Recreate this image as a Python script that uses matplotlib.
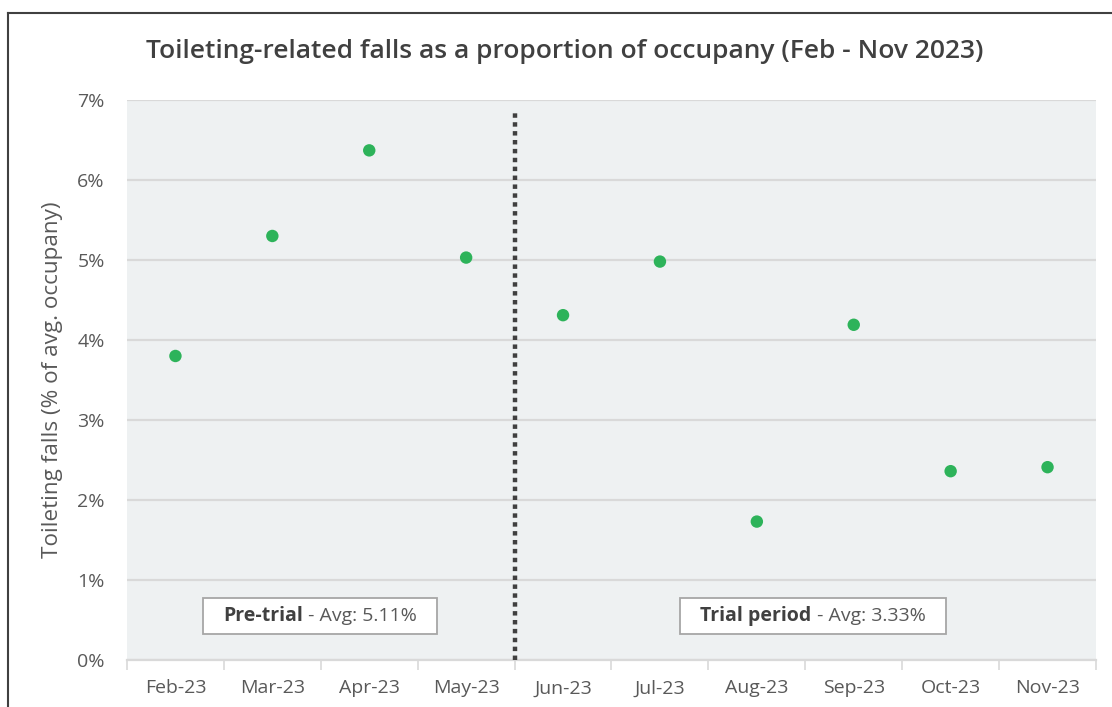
import matplotlib.pyplot as plt
import matplotlib.lines as mlines
import matplotlib.patches as mpatches
import numpy as np

plt.rcParams['font.family'] = ['Open Sans', 'DejaVu Sans']

# Data
months = ['Feb-23', 'Mar-23', 'Apr-23', 'May-23', 'Jun-23',
          'Jul-23', 'Aug-23', 'Sep-23', 'Oct-23', 'Nov-23']
falls_pct = [3.80, 5.30, 6.37, 5.03, 4.31, 4.98, 1.73, 4.19, 2.36, 2.41]
pre_avg = 5.11
trial_avg = 3.33

x = np.arange(len(months))

fig = plt.figure(figsize=(11.12, 7.07), dpi=100)
ax = fig.add_axes([0.1142, 0.0665, 0.8714, 0.7921])
ax.set_facecolor('#EEF1F2')

ax.scatter(x, falls_pct, s=80, color='#2DB35A', zorder=3, edgecolors='none')

ax.set_xlim(-0.5, len(months) - 0.5)
ax.set_ylim(0, 7)
ax.set_yticks(range(0, 8))
ax.set_yticklabels([f'{v}%' for v in range(0, 8)])
ax.yaxis.grid(True, color='#D9D9D9', linewidth=1.6, zorder=1)
ax.set_axisbelow(True)

ax.set_xticks(x)
ax.set_xticklabels(months)
ax.set_xticks(np.arange(-0.5, len(months)), minor=True)
ax.tick_params(axis='x', which='major', length=0, pad=14, labelsize=14, labelcolor='#595959')
ax.tick_params(axis='x', which='minor', length=7, width=1.2, color='#D9D9D9')
ax.tick_params(axis='y', length=0, pad=16, labelsize=14, labelcolor='#595959')

for s in ['top', 'right', 'left']:
    ax.spines[s].set_visible(False)
ax.spines['bottom'].set_color('#D9D9D9')
ax.spines['bottom'].set_linewidth(1.6)

ax.set_ylabel('Toileting falls (% of avg. occupany)', fontsize=16.2, color='#595959', labelpad=10)

# Divider between pre-trial and trial
ax.plot([3.5, 3.5], [0, 6.84], linestyle=(0, (1, 1)), color='#404040',
        linewidth=3.2, zorder=4)


# Boxes with mixed bold/regular text
def label_box(xc, yc, bold, rest):
    fig.canvas.draw()
    r = fig.canvas.get_renderer()
    tb = ax.text(0, yc, bold, fontsize=14, fontweight='bold', color='#404040',
                 ha='left', va='center', zorder=6)
    tr = ax.text(0, yc, rest, fontsize=14, color='#595959', ha='left', va='center', zorder=6)
    wb = tb.get_window_extent(r).width
    wr = tr.get_window_extent(r).width
    cx, cy = ax.transData.transform((xc, yc))
    left = cx - (wb + wr) / 2
    inv = ax.transData.inverted()
    tb.set_x(inv.transform((left, cy))[0])
    tr.set_x(inv.transform((left + wb, cy))[0])
    pad_x, half_h = 20, 18
    x0, y0 = inv.transform((left - pad_x, cy - half_h))
    x1, y1 = inv.transform((left + wb + wr + pad_x, cy + half_h))
    ax.add_patch(mpatches.Rectangle((x0, y0), x1 - x0, y1 - y0, facecolor='white',
                                    edgecolor='#A6A6A6', linewidth=1.3, zorder=5))


label_box(1.49, 0.556, 'Pre-trial', f' - Avg: {pre_avg:.2f}%')
label_box(6.58, 0.556, 'Trial period', f' - Avg: {trial_avg:.2f}%')

fig.text(0.508, 0.927, 'Toileting-related falls as a proportion of occupany (Feb - Nov 2023)',
         fontsize=19, fontweight=600, color='#404040', ha='center', va='center')

# Outer frame (top and left edges)
fig.add_artist(mlines.Line2D([0.0072, 1.0], [0.982, 0.982], color='#404040', linewidth=1.5))
fig.add_artist(mlines.Line2D([0.0072, 0.0072], [0.0, 0.982], color='#404040', linewidth=1.5))

fig.savefig('out.png', dpi=100)
